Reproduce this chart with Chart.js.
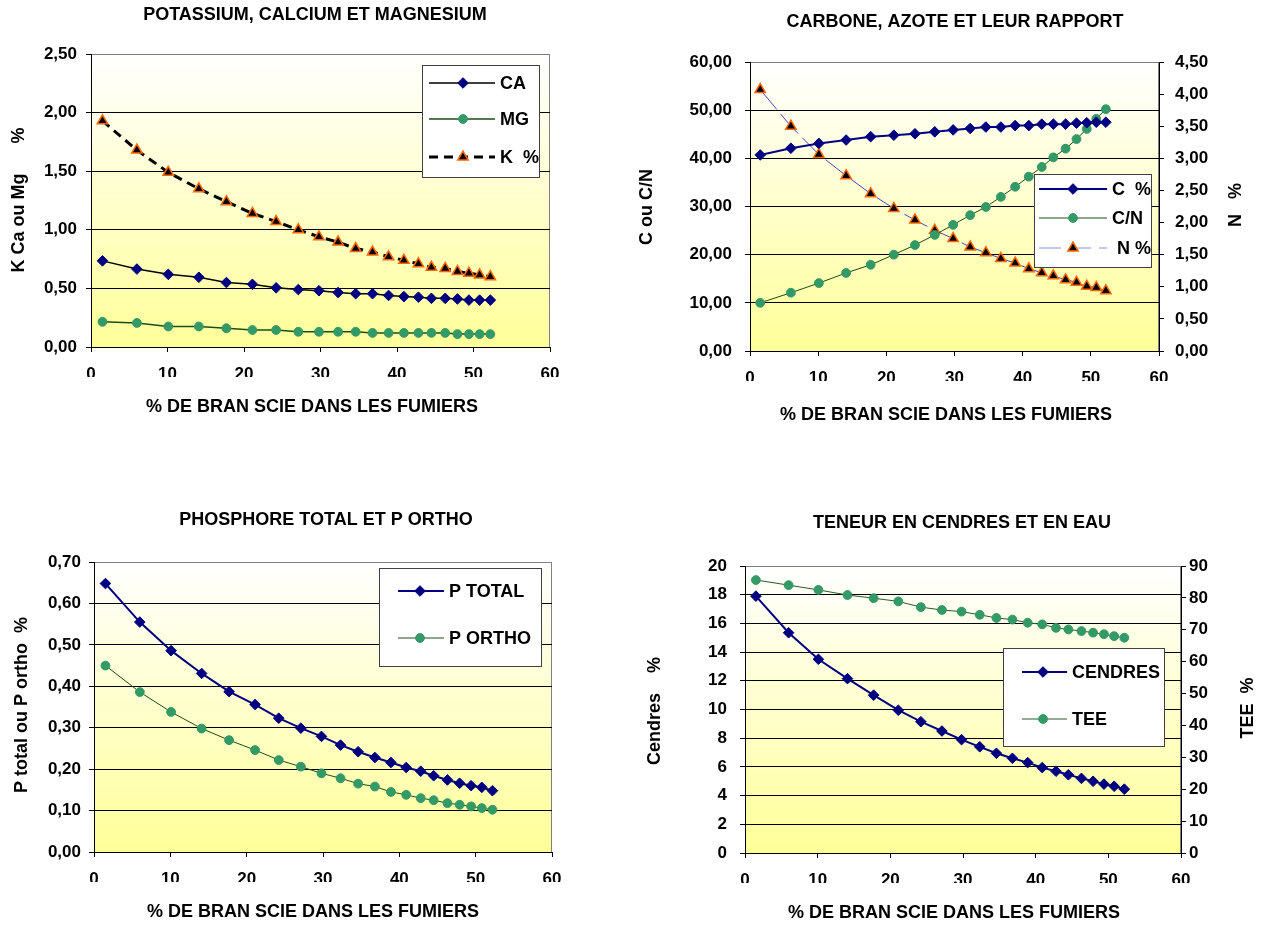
<!DOCTYPE html>
<html><head><meta charset="utf-8">
<script src="https://cdn.jsdelivr.net/npm/chart.js@4/dist/chart.umd.min.js"></script>
<style>
html,body{margin:0;padding:0;background:#fff;width:1265px;height:926px;overflow:hidden;}
canvas{position:absolute;}
</style></head><body>
<canvas id="c1" width="632" height="463" style="left:0;top:0"></canvas>
<canvas id="c2" width="633" height="463" style="left:632px;top:0"></canvas>
<canvas id="c3" width="632" height="463" style="left:0;top:463px"></canvas>
<canvas id="c4" width="633" height="463" style="left:632px;top:463px"></canvas>
<script>
// ---- data ----
const X = [1.5, 6.0, 10.1, 14.1, 17.7, 21.1, 24.2, 27.1, 29.8, 32.3, 34.6, 36.8, 38.9, 40.9, 42.8, 44.5, 46.3, 47.9, 49.4, 50.8, 52.2];
const X_TICKS = [0, 10, 20, 30, 40, 50, 60];
// chart 1
const CA = [0.735,0.665,0.62,0.595,0.55,0.535,0.505,0.49,0.48,0.465,0.455,0.455,0.44,0.43,0.425,0.415,0.415,0.41,0.40,0.40,0.40];
const MG = [0.215,0.205,0.175,0.175,0.16,0.145,0.145,0.13,0.13,0.13,0.13,0.12,0.12,0.12,0.12,0.12,0.12,0.11,0.11,0.11,0.11];
const K = [1.93,1.68,1.49,1.35,1.24,1.14,1.07,1.00,0.94,0.895,0.84,0.81,0.77,0.74,0.71,0.68,0.67,0.645,0.63,0.615,0.60];
// chart 2
const C = [40.7,42.1,43.1,43.8,44.5,44.8,45.1,45.5,45.9,46.2,46.5,46.5,46.8,46.8,47.1,47.1,47.1,47.3,47.4,47.5,47.5];
const CN = [10.0,12.1,14.1,16.2,17.9,20.0,22.0,24.1,26.2,28.2,29.9,32.0,34.1,36.2,38.2,40.2,42.0,44.0,46.1,48.2,50.2];
const N = [4.07,3.50,3.06,2.73,2.45,2.22,2.04,1.88,1.75,1.62,1.53,1.44,1.37,1.28,1.22,1.17,1.11,1.07,1.01,0.99,0.94];
// chart 3
const PT = [0.648,0.555,0.486,0.431,0.387,0.356,0.323,0.299,0.279,0.258,0.242,0.228,0.216,0.204,0.195,0.184,0.174,0.166,0.160,0.156,0.148];
const PO = [0.450,0.386,0.338,0.298,0.270,0.246,0.222,0.206,0.190,0.178,0.165,0.158,0.145,0.138,0.130,0.125,0.118,0.114,0.110,0.106,0.102];
// chart 4
const CEN = [17.9,15.35,13.5,12.15,11.0,9.95,9.15,8.5,7.9,7.4,6.95,6.6,6.3,5.95,5.7,5.45,5.2,5.0,4.8,4.65,4.45];
const TEE = [85.6,84.0,82.5,80.9,79.9,78.9,77.1,76.2,75.7,74.7,73.7,73.2,72.2,71.7,70.6,70.1,69.6,69.1,68.6,68.0,67.5];

const XT = '% DE BRAN SCIE DANS LES FUMIERS';

// ---- helpers ----
const FONT = "'Liberation Sans', Arial, Helvetica, sans-serif";
Chart.defaults.font.family = FONT;
Chart.defaults.color = '#000';
Chart.defaults.animation = false;

const fmt = d => v => Number(v).toFixed(d).replace('.', ',');
const pts = ys => X.map((x, i) => ({x, y: ys[i]}));

function marker(ctx, style, r, x, y) {
  ctx.beginPath();
  if (style === 'circle') ctx.arc(x, y, r, 0, Math.PI * 2);
  else if (style === 'rectRot') { ctx.moveTo(x - r, y); ctx.lineTo(x, y - r); ctx.lineTo(x + r, y); ctx.lineTo(x, y + r); ctx.closePath(); }
  else { const a = 2 * Math.PI / 3; ctx.moveTo(x, y - r); ctx.lineTo(x + r * Math.sin(a), y - r * Math.cos(a)); ctx.lineTo(x + r * Math.sin(2 * a), y - r * Math.cos(2 * a)); ctx.closePath(); }
  ctx.fill(); ctx.stroke();
}

const deco = {
  id: 'deco',
  beforeDraw(chart) {
    const {ctx, chartArea: a} = chart;
    ctx.save();
    const g = ctx.createLinearGradient(0, a.top, 0, a.bottom);
    g.addColorStop(0, '#FFFFFF'); g.addColorStop(1, '#FFFF99');
    ctx.fillStyle = g;
    ctx.fillRect(a.left, a.top, a.right - a.left, a.bottom - a.top);
    ctx.strokeStyle = '#808080'; ctx.lineWidth = 1;
    ctx.strokeRect(Math.round(a.left) + 0.5, Math.round(a.top) + 0.5, Math.round(a.right - a.left) - 1, Math.round(a.bottom - a.top));
    ctx.restore();
  },
  afterDraw(chart, args, o) {
    const ctx = chart.ctx;
    ctx.save();
    ctx.fillStyle = '#000';
    ctx.textAlign = 'center'; ctx.textBaseline = 'middle';
    (o.texts || []).forEach(t => {
      ctx.save();
      ctx.font = `bold ${t.size || 18}px ${FONT}`;
      ctx.translate(t.x, t.y);
      if (t.rot) ctx.rotate(-Math.PI / 2);
      ctx.fillText(t.t, 0, 0);
      ctx.restore();
    });
    const L = o.legend;
    if (L) {
      ctx.fillStyle = '#fff';
      ctx.fillRect(L.x, L.y, L.w, L.h);
      ctx.strokeStyle = '#404040'; ctx.lineWidth = 1;
      ctx.strokeRect(L.x + 0.5, L.y + 0.5, L.w, L.h);
      chart.data.datasets.forEach((ds, i) => {
        const y = L.rows[i];
        ctx.beginPath();
        ctx.setLineDash(ds.legendDash || ds.borderDash || []);
        ctx.strokeStyle = ds.legendLine || ds.borderColor; ctx.lineWidth = ds.borderWidth;
        ctx.moveTo(L.x1, y); ctx.lineTo(L.x2, y); ctx.stroke();
        ctx.setLineDash([]);
        ctx.fillStyle = ds.pointBackgroundColor; ctx.strokeStyle = ds.pointBorderColor; ctx.lineWidth = ds.pointBorderWidth;
        marker(ctx, ds.pointStyle, ds.pointRadius, L.mx, y);
        ctx.fillStyle = '#000';
        ctx.font = `bold 18px ${FONT}`;
        ctx.textAlign = 'left'; ctx.textBaseline = 'middle';
        ctx.fillText(ds.label, L.tx, y + 1);
      });
    }
    ctx.restore();
  }
};

function yAxis(pos, min, max, step, dec, width, pad, grid) {
  return {
    type: 'linear', position: pos, min, max,
    ticks: {stepSize: step, callback: fmt(dec), font: {size: 17, weight: 'bold'}, padding: pad, color: '#000'},
    grid: {display: true, drawOnChartArea: grid, lineWidth: 1, tickLength: 5, tickColor: '#000',
      color: c => (c.tick && c.tick.value === max) ? '#808080' : '#000'},
    border: {display: true, color: '#000', width: 1},
    afterFit: s => { s.width = width; }
  };
}
function xAxis(pad) {
  return {
    type: 'linear', position: 'bottom', min: X_TICKS[0], max: X_TICKS[X_TICKS.length - 1],
    ticks: {stepSize: 10, font: {size: 17, weight: 'bold'}, padding: pad, color: '#000', callback: v => String(v)},
    grid: {display: true, drawOnChartArea: false, tickLength: 5, tickColor: '#000'},
    border: {display: true, color: '#000', width: 1},
    afterFit: s => { s.height = 30; }
  };
}
const diamond = (label, ys, line, lw, extra) => Object.assign({label, data: pts(ys), borderColor: line, borderWidth: lw,
  pointStyle: 'rectRot', pointRadius: 5.3, pointBackgroundColor: '#000080', pointBorderColor: '#000080', pointBorderWidth: 1, tension: 0}, extra || {});
const circle = (label, ys, line, lw, extra) => Object.assign({label, data: pts(ys), borderColor: line, borderWidth: lw,
  pointStyle: 'circle', pointRadius: 4.4, pointBackgroundColor: '#339966', pointBorderColor: '#339966', pointBorderWidth: 1, tension: 0}, extra || {});
const tri = (label, ys, line, lw, dash, extra) => Object.assign({label, data: pts(ys), borderColor: line, borderWidth: lw, borderDash: dash,
  pointStyle: 'triangle', pointRadius: 6, pointBackgroundColor: '#000000', pointBorderColor: '#FF6600', pointBorderWidth: 1.5, tension: 0}, extra || {});

function make(id, datasets, scales, padding, deco_opts) {
  return new Chart(document.getElementById(id), {
    type: 'line',
    data: {datasets},
    options: {
      responsive: false, animation: false, devicePixelRatio: 1,
      layout: {padding},
      scales,
      plugins: {legend: {display: false}, tooltip: {enabled: false}, title: {display: false}, deco: deco_opts}
    },
    plugins: [deco]
  });
}

// ---- chart 1 ----
make('c1',
  [diamond('CA', CA, '#000000', 1.5), circle('MG', MG, '#1a4d1a', 1.5), tri('K  %', K, '#000000', 3, [9, 6])],
  {x: xAxis(12), y: yAxis('left', 0, 2.5, 0.5, 2, 91, 9, true)},
  {left: 0, right: 82, top: 54, bottom: 86},
  {texts: [
      {t: 'POTASSIUM, CALCIUM ET MAGNESIUM', x: 315, y: 15},
      {t: XT, x: 312, y: 407},
      {t: 'K Ca ou Mg      %', x: 19, y: 200, rot: true}],
   legend: {x: 422, y: 65, w: 117, h: 112, rows: [83, 119, 157], x1: 429, x2: 495, mx: 463, tx: 500}}
);

// ---- chart 2 ----
make('c2',
  [diamond('C  %', C, '#000080', 2), circle('C/N', CN, '#1a4d1a', 1),
   tri(' N %', N, '#4848c0', 1, [26, 6], {yAxisID: 'y2', legendLine: '#9090d0', legendDash: [22, 8]})],
  {x: xAxis(12), y: yAxis('left', 0, 60, 10, 2, 118, 13, true), y2: yAxis('right', 0, 4.5, 0.5, 2, 60, 11, false)},
  {left: 0, right: 46, top: 62, bottom: 82},
  {texts: [
      {t: 'CARBONE, AZOTE ET LEUR RAPPORT', x: 323, y: 22},
      {t: XT, x: 314, y: 415},
      {t: 'C ou C/N', x: 15, y: 207, rot: true},
      {t: 'N   %', x: 604, y: 205, rot: true}],
   legend: {x: 402, y: 174, w: 117, h: 93, rows: [189, 218, 248], x1: 407, x2: 475, mx: 441, tx: 480}}
);

// ---- chart 3 ----
make('c3',
  [diamond('P TOTAL', PT, '#000080', 2), circle('P ORTHO', PO, '#1a4d1a', 1)],
  {x: xAxis(12), y: yAxis('left', 0, 0.7, 0.1, 2, 94, 8, true)},
  {left: 0, right: 80, top: 99, bottom: 44},
  {texts: [
      {t: 'PHOSPHORE TOTAL ET P ORTHO', x: 326, y: 57},
      {t: XT, x: 313, y: 449},
      {t: 'P total ou P ortho  %', x: 22, y: 242, rot: true}],
   legend: {x: 379, y: 105, w: 162, h: 98, rows: [128, 175], x1: 398, x2: 444, mx: 420, tx: 449}}
);

// ---- chart 4 ----
make('c4',
  [diamond('CENDRES', CEN, '#000080', 2), circle('TEE', TEE, '#2a5a2a', 1, {yAxisID: 'y2'})],
  {x: xAxis(12), y: yAxis('left', 0, 20, 2, 0, 113, 13, true), y2: yAxis('right', 0, 90, 10, 0, 60, 3, false)},
  {left: 0, right: 24, top: 103, bottom: 43},
  {texts: [
      {t: 'TENEUR EN CENDRES ET EN EAU', x: 330, y: 60},
      {t: XT, x: 322, y: 450},
      {t: 'Cendres    %', x: 23, y: 248, rot: true},
      {t: 'TEE  %', x: 616, y: 245, rot: true}],
   legend: {x: 371, y: 185, w: 161, h: 98, rows: [209, 256], x1: 390, x2: 435, mx: 411, tx: 440}}
);
</script>
</body></html>
